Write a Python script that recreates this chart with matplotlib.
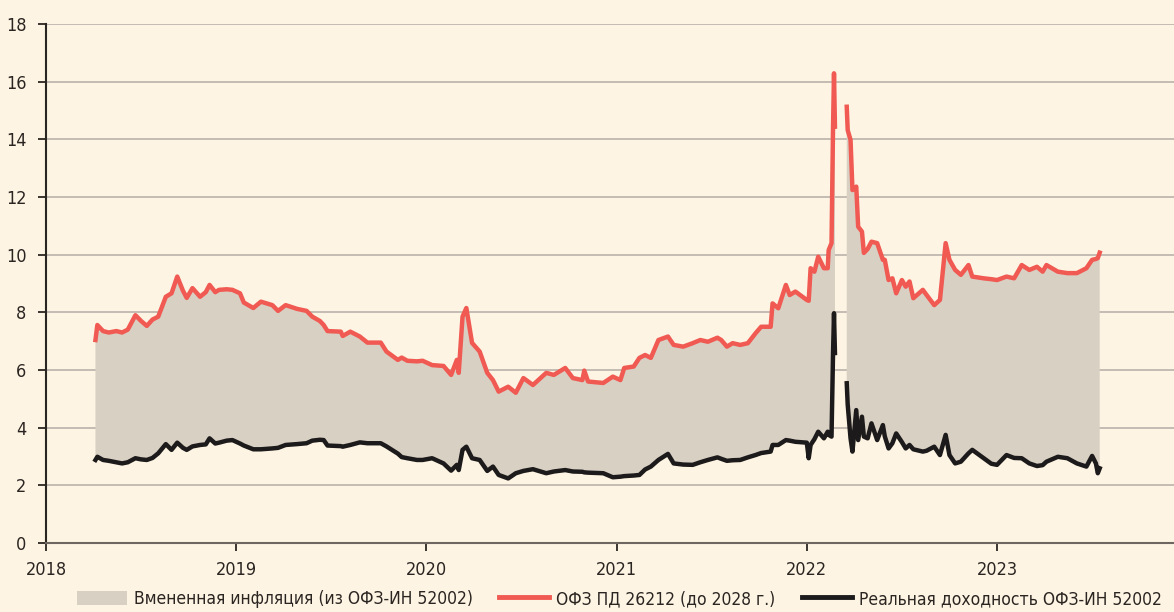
import numpy as np
import matplotlib
matplotlib.use("Agg")
import matplotlib.pyplot as plt
from matplotlib.patches import Patch
from matplotlib.lines import Line2D

# dates as decimal years, values in %
years = [
    2018.26, 2018.27, 2018.30, 2018.33, 2018.37, 2018.40, 2018.43, 2018.47, 2018.50, 2018.53,
    2018.56, 2018.59, 2018.63, 2018.66, 2018.69, 2018.72, 2018.74, 2018.77, 2018.81, 2018.84,
    2018.86, 2018.89, 2018.91, 2018.95, 2018.98, 2019.02, 2019.04, 2019.09, 2019.13, 2019.19,
    2019.22, 2019.26, 2019.32, 2019.37, 2019.40, 2019.44, 2019.46, 2019.48, 2019.55, 2019.56,
    2019.60, 2019.65, 2019.69, 2019.76, 2019.79, 2019.85, 2019.87, 2019.90, 2019.95, 2019.98,
    2020.03, 2020.09, 2020.13, 2020.16, 2020.17, 2020.19, 2020.21, 2020.24, 2020.28, 2020.32,
    2020.35, 2020.38, 2020.43, 2020.47, 2020.51, 2020.56, 2020.63, 2020.67, 2020.73, 2020.77,
    2020.82, 2020.83, 2020.85, 2020.93, 2020.98, 2021.02, 2021.04, 2021.09, 2021.12, 2021.15,
    2021.18, 2021.22, 2021.27, 2021.30, 2021.35, 2021.40, 2021.44, 2021.48, 2021.53, 2021.55,
    2021.58, 2021.61, 2021.65, 2021.69, 2021.73, 2021.76, 2021.81, 2021.82, 2021.85, 2021.89,
    2021.91, 2021.94, 2022.00, 2022.01, 2022.02, 2022.04, 2022.06, 2022.09, 2022.11, 2022.115,
    2022.13, 2022.138, 2022.143, 2022.148, 2022.18, 2022.21, 2022.215, 2022.23, 2022.24, 2022.26,
    2022.27, 2022.29, 2022.30, 2022.32, 2022.34, 2022.37, 2022.40, 2022.41, 2022.43, 2022.45,
    2022.47, 2022.50, 2022.52, 2022.54, 2022.56, 2022.61, 2022.63, 2022.67, 2022.70, 2022.73,
    2022.75, 2022.78, 2022.81, 2022.85, 2022.87, 2022.93, 2022.97, 2023.00, 2023.05, 2023.09,
    2023.13, 2023.17, 2023.21, 2023.24, 2023.26, 2023.32, 2023.37, 2023.42, 2023.47, 2023.50,
    2023.52, 2023.53, 2023.54,
]

# ОФЗ ПД 26212 yield (nan = trading halt in March 2022)
nominal = [
    7.04, 7.56, 7.35, 7.30, 7.35, 7.30, 7.40, 7.90, 7.70, 7.53,
    7.75, 7.85, 8.54, 8.66, 9.24, 8.75, 8.50, 8.84, 8.54, 8.70,
    8.95, 8.70, 8.78, 8.80, 8.78, 8.66, 8.34, 8.15, 8.37, 8.25,
    8.05, 8.25, 8.12, 8.05, 7.85, 7.70, 7.56, 7.35, 7.33, 7.18,
    7.33, 7.16, 6.95, 6.95, 6.64, 6.35, 6.43, 6.32, 6.30, 6.32,
    6.17, 6.14, 5.83, 6.35, 5.90, 7.85, 8.15, 6.94, 6.64, 5.90,
    5.65, 5.25, 5.42, 5.21, 5.72, 5.48, 5.90, 5.83, 6.07, 5.72,
    5.65, 5.98, 5.60, 5.55, 5.77, 5.65, 6.07, 6.12, 6.42, 6.52,
    6.42, 7.04, 7.16, 6.87, 6.81, 6.93, 7.04, 6.98, 7.12, 7.04,
    6.81, 6.93, 6.87, 6.93, 7.27, 7.50, 7.50, 8.31, 8.14, 8.95,
    8.60, 8.72, 8.43, 8.40, 9.53, 9.41, 9.93, 9.53, 9.53, 10.16,
    10.40, 14.44, 16.29, 14.44, np.nan, 15.13, 14.32, 13.98, 12.24, 12.36,
    10.97, 10.80, 10.06, 10.20, 10.45, 10.40, 9.82, 9.82, 9.12, 9.18,
    8.66, 9.12, 8.89, 9.07, 8.49, 8.78, 8.60, 8.25, 8.43, 10.40,
    9.82, 9.47, 9.30, 9.64, 9.24, 9.18, 9.15, 9.12, 9.24, 9.18,
    9.64, 9.47, 9.58, 9.41, 9.64, 9.41, 9.36, 9.36, 9.53, 9.82,
    9.85, 9.88, 10.07,
]

# ОФЗ-ИН 52002 real yield
real = [
    2.88, 2.99, 2.88, 2.85, 2.80, 2.76, 2.80, 2.94, 2.90, 2.88,
    2.95, 3.11, 3.43, 3.23, 3.48, 3.30, 3.23, 3.35, 3.40, 3.42,
    3.63, 3.45, 3.48, 3.55, 3.57, 3.45, 3.38, 3.25, 3.25, 3.28,
    3.30, 3.40, 3.43, 3.46, 3.55, 3.58, 3.57, 3.38, 3.36, 3.34,
    3.40, 3.49, 3.46, 3.46, 3.35, 3.10, 2.98, 2.94, 2.88, 2.88,
    2.94, 2.76, 2.51, 2.71, 2.53, 3.23, 3.34, 2.94, 2.88, 2.50,
    2.65, 2.36, 2.24, 2.42, 2.50, 2.56, 2.42, 2.48, 2.53, 2.48,
    2.47, 2.45, 2.44, 2.42, 2.28, 2.30, 2.32, 2.34, 2.36, 2.55,
    2.65, 2.88, 3.09, 2.76, 2.72, 2.71, 2.80, 2.88, 2.97, 2.92,
    2.85, 2.87, 2.88, 2.97, 3.05, 3.12, 3.17, 3.40, 3.40, 3.57,
    3.55, 3.51, 3.48, 2.94, 3.40, 3.60, 3.86, 3.63, 3.86, 3.75,
    3.69, 6.60, 7.97, 6.59, np.nan, 5.54, 4.80, 3.63, 3.17, 4.61,
    3.57, 4.38, 3.69, 3.63, 4.15, 3.57, 4.09, 3.70, 3.28, 3.46,
    3.80, 3.50, 3.28, 3.40, 3.25, 3.17, 3.20, 3.34, 3.05, 3.75,
    3.05, 2.76, 2.82, 3.11, 3.23, 2.94, 2.75, 2.71, 3.05, 2.95,
    2.94, 2.76, 2.67, 2.70, 2.82, 2.99, 2.94, 2.76, 2.65, 3.02,
    2.76, 2.42, 2.59,
]

year_ticks = [2018, 2019, 2020, 2021, 2022, 2023]
y_ticks = [0, 2, 4, 6, 8, 10, 12, 14, 16, 18]

label_fill = "Вмененная инфляция (из ОФЗ-ИН 52002)"
label_nom = "ОФЗ ПД 26212 (до 2028 г.)"
label_real = "Реальная доходность ОФЗ-ИН 52002"

BG = "#fdf4e3"
FILL = "#d9d0c4"
RED = "#f05a52"
BLACK = "#1c1a1a"
GRID = "#bab2aa"
TXT = "#2b2522"

plt.rcParams["font.family"] = ["DejaVu Sans"]
plt.rcParams["font.stretch"] = "condensed"

W, H = 1174, 612
fig = plt.figure(figsize=(W / 100, H / 100), dpi=100, facecolor=BG)
ax = fig.add_axes([46 / W, (H - 543) / H, (W - 46) / W, (543 - 24) / H], facecolor=BG)

x = np.array(years)
nom = np.array(nominal)
rl = np.array(real)

ax.fill_between(x, rl, nom, color=FILL, linewidth=0, zorder=2)
ax.plot(x, nom, color=RED, linewidth=3.2, solid_joinstyle="round", zorder=3)
ax.plot(x, rl, color=BLACK, linewidth=3.2, solid_joinstyle="round", zorder=4)

ax.set_xlim(2018, 2018 + (W - 46) / 190.2)
ax.set_ylim(0, 18)
ax.set_xticks(year_ticks)
ax.set_xticklabels([str(y) for y in year_ticks])
ax.set_yticks(y_ticks)

ax.grid(axis="y", color=GRID, linewidth=1.2, zorder=1)
ax.set_axisbelow(True)
for s in ["top", "right"]:
    ax.spines[s].set_visible(False)
ax.spines["left"].set_color(TXT)
ax.spines["left"].set_linewidth(1.5)
ax.spines["bottom"].set_color("#6e6660")
ax.spines["bottom"].set_linewidth(1.5)
ax.tick_params(axis="y", length=6, width=1.3, color=TXT, labelsize=13,
               labelcolor=TXT, pad=8)
ax.tick_params(axis="x", length=6, width=1.3, color=TXT, labelsize=13,
               labelcolor=TXT, pad=7)

handles = [
    Patch(facecolor=FILL, edgecolor="none"),
    Line2D([0], [0], color=RED, linewidth=3.5),
    Line2D([0], [0], color=BLACK, linewidth=3.5),
]
fig.legend(handles, [label_fill, label_nom, label_real], loc="lower left",
           bbox_to_anchor=(61 / W, -0.019), ncol=3, frameon=False, fontsize=12.5,
           handlelength=2.9, handleheight=0.9, handletextpad=0.4,
           columnspacing=1.5, labelcolor=TXT)

fig.savefig("out.png", dpi=100, facecolor=BG)
